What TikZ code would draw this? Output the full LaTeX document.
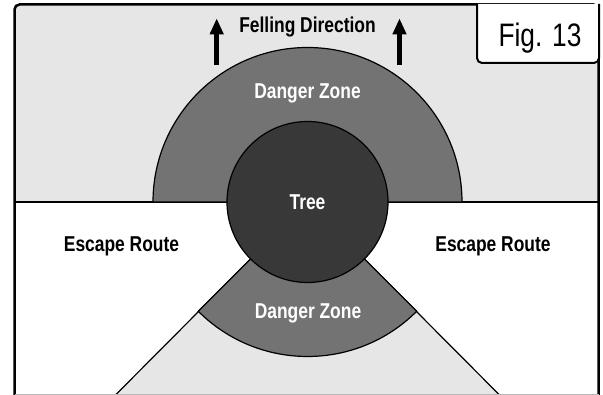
\documentclass[tikz,border=0pt]{standalone}
\usepackage{fontspec}
\setmainfont{Liberation Sans}[FakeStretch=0.81]
\usepackage{tikz}
\usetikzlibrary{arrows.meta}

\definecolor{zonelight}{HTML}{E6E6E6}
\definecolor{zonemid}{HTML}{737373}
\definecolor{zonedark}{HTML}{383838}

\begin{document}
\begin{tikzpicture}[x=1pt, y=1pt,
  edge/.style={black, line width=1.2pt},
  boldlabel/.style={anchor=base, inner sep=0pt, font=\fontsize{21.5}{23}\selectfont\bfseries},
  felling/.style={-{Triangle[width=13pt,length=16pt]}, line width=4.5pt}]
\useasboundingbox (0,0) rectangle (603,395);
\coordinate (treec) at (307.5,193);
% upper half and wedge below the tree
\fill[zonelight] (14.5,193) rectangle (598.5,390.5);
\fill[zonelight] (treec) -- (114.5,-1) -- (500.5,-1) -- cycle;
\draw[edge] (14.5,193) -- (598.5,193);
\draw[edge] (treec) -- (114.5,-1);
\draw[edge] (treec) -- (500.5,-1);
% danger zones
\filldraw[edge, fill=zonemid] (153,193) arc (180:0:154.5) -- cycle;
\filldraw[edge, fill=zonemid] (treec) -- ++(225:154.5) arc (225:315:154.5) -- cycle;
% tree
\filldraw[edge, fill=zonedark] (treec) circle (80.5);
% frame
\draw[line width=2.5pt, rounded corners=5pt] (14.5,-3) -- (14.5,390.5) -- (598.5,390.5) -- (598.5,-3);
\draw[zonelight!80!black, line width=0.6pt] (14.5,0.4) -- (598.5,0.4);
\filldraw[fill=white, line width=2pt, rounded corners=5pt] (477,391) -- (477,332) -- (599,332) -- (599,391);
\node[anchor=base, inner sep=0pt, font=\fontsize{32.5}{34}\selectfont] (fig) at (540,348.3) {Fig. 13};
% labels
\node[boldlabel] (fell) at (307.5,362) {Felling Direction};
\coordinate (arrl) at (216.7,330);
\coordinate (arrr) at (399.5,330);
\draw[felling] (arrl) -- ++(0,46.7);
\draw[felling] (arrr) -- ++(0,46.7);
\node[boldlabel, white] (dzup) at (307.5,296) {Danger Zone};
\node[boldlabel, white] (tree) at (307.5,185) {Tree};
\node[boldlabel] (escl) at (121.5,143) {Escape Route};
\node[boldlabel] (escr) at (493,143) {Escape Route};
\node[boldlabel, white] (dzlow) at (308,76) {Danger Zone};
\end{tikzpicture}
\end{document}
